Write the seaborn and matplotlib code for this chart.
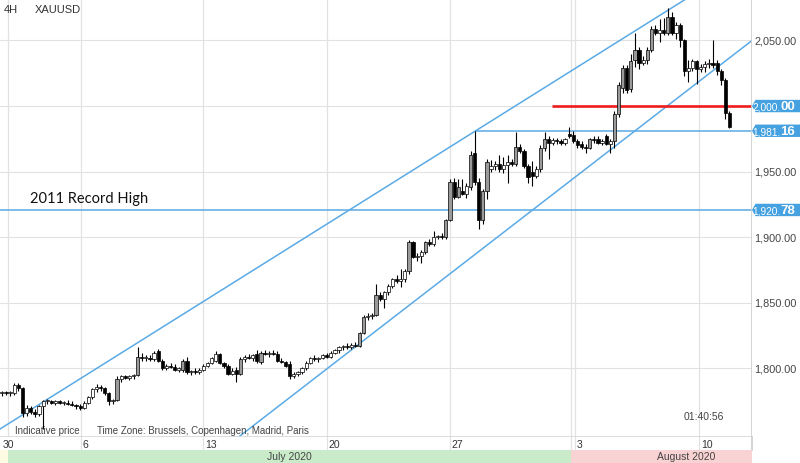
import matplotlib
matplotlib.use("Agg")
import numpy as np
import pandas as pd
import matplotlib.pyplot as plt
import seaborn as sns
from matplotlib.patches import Polygon

# ---------------- data (4H XAUUSD candles) ----------------
opens = [1781, 1782, 1781, 1781, 1787, 1785, 1766, 1770, 1767, 1765,
         1771, 1775, 1775, 1774, 1775, 1774, 1774, 1773, 1772, 1771,
         1770, 1774, 1778, 1784, 1786, 1785, 1781, 1775, 1776, 1792,
         1794, 1793, 1794, 1795, 1809, 1808, 1808, 1807, 1813, 1806,
         1800, 1802, 1801, 1799, 1799, 1806, 1797, 1798, 1797, 1799,
         1802, 1804, 1806, 1811, 1804, 1802, 1796, 1799, 1796, 1807,
         1809, 1808, 1811, 1805, 1812, 1811, 1812, 1811, 1806, 1805,
         1803, 1794, 1796, 1797, 1800, 1804, 1808, 1807, 1808, 1810,
         1809, 1812, 1814, 1816, 1817, 1816, 1818, 1817, 1827, 1839,
         1840, 1841, 1856, 1853, 1858, 1863, 1868, 1867, 1868, 1874,
         1896, 1885, 1886, 1889, 1896, 1895, 1900, 1901, 1900, 1913,
         1942, 1931, 1935, 1933, 1938, 1964, 1942, 1913, 1935, 1952,
         1954, 1956, 1952, 1955, 1957, 1956, 1969, 1966, 1954, 1950,
         1947, 1952, 1968, 1975, 1972, 1974, 1973, 1972, 1979, 1978,
         1973, 1971, 1969, 1968, 1975, 1975, 1972, 1977, 1971, 1973,
         1994, 2014, 2029, 2013, 2035, 2043, 2033, 2035, 2043, 2059,
         2056, 2058, 2056, 2068, 2056, 2062, 2050, 2027, 2029, 2034,
         2028, 2030, 2032, 2033, 2033, 2027, 2020, 1995]
highs = [1783, 1783, 1783, 1789, 1789, 1786, 1772, 1771, 1769, 1772,
         1776, 1777, 1776, 1776, 1776, 1775, 1776, 1775, 1773, 1773,
         1775, 1779, 1785, 1788, 1787, 1786, 1782, 1777, 1794, 1795,
         1795, 1795, 1796, 1816, 1812, 1810, 1810, 1813, 1815, 1807,
         1803, 1804, 1803, 1801, 1807, 1809, 1799, 1800, 1800, 1803,
         1805, 1809, 1813, 1812, 1805, 1803, 1800, 1801, 1809, 1810,
         1811, 1811, 1814, 1813, 1814, 1813, 1814, 1813, 1808, 1806,
         1806, 1797, 1798, 1801, 1806, 1809, 1810, 1809, 1811, 1812,
         1813, 1815, 1817, 1818, 1819, 1819, 1820, 1828, 1841, 1842,
         1842, 1864, 1858, 1859, 1864, 1869, 1871, 1876, 1876, 1898,
         1897, 1888, 1890, 1897, 1899, 1905, 1902, 1903, 1914, 1944,
         1945, 1944, 1944, 1941, 1966, 1981.16, 1945, 1937, 1960, 1959,
         1958, 1963, 1961, 1963, 1960, 1980, 1971, 1967, 1956, 1958,
         1954, 1970, 1980, 1977, 1976, 1976, 1975, 1976, 1984, 1981,
         1975, 1973, 1971, 1976, 1977, 1977, 1975, 1979, 1975, 1996,
         2018, 2031, 2031, 2040, 2056, 2045, 2038, 2045, 2061, 2062,
         2066, 2067, 2075, 2072, 2064, 2063, 2051, 2035, 2036, 2035,
         2032, 2034, 2036, 2050, 2035, 2028, 2021, 1996]
lows = [1779, 1780, 1779, 1780, 1783, 1763, 1764, 1765, 1763, 1764,
        1754, 1773, 1773, 1772, 1773, 1772, 1772, 1771, 1769, 1768,
        1769, 1773, 1777, 1782, 1783, 1780, 1772, 1773, 1775, 1790,
        1792, 1791, 1792, 1794, 1806, 1806, 1806, 1806, 1805, 1799,
        1799, 1800, 1798, 1797, 1797, 1796, 1795, 1796, 1796, 1798,
        1801, 1803, 1805, 1803, 1800, 1795, 1795, 1790, 1795, 1805,
        1807, 1806, 1804, 1803, 1810, 1809, 1810, 1805, 1804, 1801,
        1792, 1793, 1794, 1796, 1799, 1803, 1806, 1805, 1807, 1808,
        1808, 1811, 1812, 1814, 1815, 1815, 1816, 1816, 1826, 1837,
        1838, 1840, 1851, 1846, 1856, 1861, 1865, 1862, 1866, 1872,
        1884, 1882, 1880, 1887, 1893, 1893, 1899, 1899, 1899, 1912,
        1929, 1930, 1932, 1930, 1936, 1940, 1906, 1910, 1929, 1950,
        1951, 1950, 1949, 1941, 1954, 1954, 1964, 1953, 1941, 1939,
        1945, 1950, 1966, 1960, 1970, 1971, 1970, 1970, 1976, 1972,
        1968, 1967, 1964, 1967, 1972, 1971, 1970, 1970, 1964, 1968,
        1992, 2010, 2010, 2011, 2030, 2028, 2031, 2032, 2041, 2054,
        2049, 2054, 2054, 2054, 2051, 2045, 2023, 2018, 2027, 2017,
        2026, 2026, 2029, 2029, 2024, 2016, 1990, 1983]
closes = [1782, 1781, 1782, 1787, 1785, 1766, 1770, 1767, 1765, 1771,
          1775, 1775, 1774, 1775, 1774, 1774, 1773, 1772, 1771, 1770,
          1774, 1778, 1784, 1786, 1785, 1781, 1775, 1776, 1792, 1794,
          1793, 1794, 1795, 1809, 1808, 1808, 1807, 1812, 1806, 1800,
          1802, 1801, 1799, 1800, 1806, 1797, 1798, 1797, 1799, 1802,
          1804, 1808, 1811, 1804, 1802, 1796, 1798, 1796, 1807, 1809,
          1808, 1810, 1806, 1812, 1811, 1812, 1811, 1806, 1805, 1802,
          1794, 1796, 1797, 1800, 1804, 1808, 1807, 1808, 1810, 1809,
          1812, 1814, 1816, 1817, 1816, 1818, 1817, 1827, 1839, 1840,
          1841, 1856, 1853, 1858, 1863, 1868, 1867, 1868, 1874, 1896,
          1885, 1886, 1889, 1896, 1895, 1900, 1901, 1900, 1913, 1942,
          1931, 1938, 1933, 1939, 1963, 1942, 1913, 1935, 1957, 1954,
          1956, 1952, 1955, 1957, 1956, 1969, 1966, 1954, 1946, 1947,
          1952, 1968, 1975, 1972, 1974, 1973, 1972, 1975, 1977, 1973,
          1970, 1969, 1968, 1975, 1974, 1972, 1973, 1971, 1973, 1994,
          2016, 2029, 2012, 2034, 2043, 2033, 2035, 2043, 2059, 2056,
          2058, 2056, 2068, 2056, 2062, 2050, 2027, 2029, 2034, 2028,
          2030, 2032, 2033, 2031, 2027, 2020, 1995, 1984]

price_ticks = [1800, 1850, 1900, 1950, 2000, 2050]
week_grid = [19.1, 49.0, 79.1, 109.0, 139.4, 169.6]
date_labels = ["30", "6", "13", "20", "27", "3", "10"]
date_label_pos = [0.2, 19.5, 49.4, 79.4, 109.4, 139.8, 170.0]
month_bounds = [-0.49, 1.46, 138.4, 182.48]
month_names = ["", "July 2020", "August 2020"]
month_label_pos = [0.5, 69.9, 166.4]

# channel line anchors (candle index, price)
upper_channel = [(-0.49, 1753.8), (166.4, 2081.6)]
lower_channel = [(57.9, 1748.5), (182.0, 2048.8)]
record_high = 1920.78
resistance = 1981.16
resistance_start = 115
round_level = 2000.0
round_level_start = 133.8

# ---------------- styling / layout ----------------
sns.set_theme(style="white")
plt.rcParams['font.family'] = ['Liberation Sans', 'DejaVu Sans']

W, H = 800, 464
XLIM = (-0.49, 182.48)
YLIM = (1747.7, 2081.6)
BLUE = '#5aaae6'
BOX = '#45a1e0'
GRID = '#e2e2e2'


def rect(x0, y0, x1, y1):
    return [x0 / W, 1 - y1 / H, (x1 - x0) / W, (y1 - y0) / H]


fig = plt.figure(figsize=(8, 4.64), dpi=100)
ax = fig.add_axes(rect(0, 0, 752, 438))
ax_right = fig.add_axes(rect(752, 0, 800, 438))
ax_date = fig.add_axes(rect(0, 438, 752, 451))
ax_month = fig.add_axes(rect(0, 451, 752, 464))

for a in (ax, ax_right, ax_date, ax_month):
    a.set_xticks([])
    a.set_yticks([])
    for s in a.spines.values():
        s.set_visible(False)
    a.set_facecolor('white')

ax.set_xlim(*XLIM)
ax.set_ylim(*YLIM)
ax.spines['right'].set_visible(True)
ax.spines['right'].set_color('#cfcfcf')
ax.spines['bottom'].set_visible(True)
ax.spines['bottom'].set_color('#d8d8d8')

# grid
for p in price_ticks:
    ax.axhline(p, color=GRID, lw=0.8, zorder=0)
for g in week_grid + [month_bounds[1], month_bounds[2]]:
    ax.axvline(g, color=GRID, lw=0.9, zorder=0)

# channel lines through seaborn
def extend(anchors):
    (i1, p1), (i2, p2) = anchors
    m = (p2 - p1) / (i2 - i1)
    return [XLIM[0], XLIM[1]], [p1 + m * (XLIM[0] - i1), p1 + m * (XLIM[1] - i1)]

rows = []
for name, anc in (("upper", upper_channel), ("lower", lower_channel)):
    xs, ys = extend(anc)
    for xv, yv in zip(xs, ys):
        rows.append({"line": name, "i": xv, "price": yv})
ch = pd.DataFrame(rows)
sns.lineplot(data=ch, x="i", y="price", units="line", estimator=None,
             color=BLUE, lw=1.1, ax=ax, zorder=2, legend=False)
ax.set_xlabel("")
ax.set_ylabel("")
ax.set_xlim(*XLIM)
ax.set_ylim(*YLIM)

ax.axhline(record_high, color=BLUE, lw=1.1, zorder=2)
ax.hlines(resistance, resistance_start, XLIM[1], color=BLUE, lw=1.1, zorder=2)
ax.hlines(round_level, round_level_start, XLIM[1], color='#ee1c1c', lw=1.9, zorder=2)

# candles
o = np.array(opens, float)
h = np.array(highs, float)
l = np.array(lows, float)
c = np.array(closes, float)
idx = np.arange(len(o))
up = c >= o
ax.vlines(idx, l, h, color='black', lw=0.8, zorder=3)
bottom = np.minimum(o, c)
height = np.maximum(np.abs(c - o), 0.7)
fills = np.where(up, np.where(np.abs(c - o) > 6, '#9a9a9a', 'white'), 'black')
ax.bar(idx, height, bottom=bottom, width=0.78, color=fills, edgecolor='black',
       linewidth=0.5, zorder=4)

# annotations in pixel positions
def ftext(x, y, s, **kw):
    fig.text(x / W, 1 - y / H, s, va='center', **kw)

ftext(4, 10, "4H", fontsize=8, color='#333333')
ftext(35, 10, "XAUUSD", fontsize=8, color='#333333')
ftext(30, 199, "2011 Record High", fontsize=10.5, color='#111111', family=['Lato', 'DejaVu Sans'])
ftext(15, 431, "Indicative price", fontsize=7, color='#444444')
ftext(97, 431, "Time Zone: Brussels, Copenhagen, Madrid, Paris", fontsize=7, color='#444444')
ftext(684, 417, "01:40:56", fontsize=7.5, color='#444444')

# right price scale
ax_right.set_xlim(0, 48)
ax_right.set_ylim(*YLIM)
ppx = (YLIM[1] - YLIM[0]) / 438.0
for p in price_ticks:
    if p == round_level:
        continue
    ax_right.text(2.5, p, f"{p:,.2f}", fontsize=7.8, color='#444444', va='center', ha='left')

for lvl in (round_level, resistance, record_high):
    hh = 6.2 * ppx
    poly = Polygon([(0, lvl), (3.5, lvl + hh), (48, lvl + hh), (48, lvl - hh), (3.5, lvl - hh)],
                   closed=True, facecolor=BOX, edgecolor='none', clip_on=False)
    ax_right.add_patch(poly)
    s = f"{lvl:,.2f}"
    ax_right.text(28.5, lvl - 0.3 * ppx, s[:-2], fontsize=7.3, color='white', va='center', ha='right')
    ax_right.text(28.5, lvl, s[-2:], fontsize=9.5, fontweight='bold', color='white', va='center', ha='left')

# date row
ax_date.set_xlim(*XLIM)
ax_date.set_ylim(0, 1)
ax_date.spines['right'].set_visible(True)
ax_date.spines['right'].set_color('#cfcfcf')
for g in week_grid + [month_bounds[2]]:
    ax_date.axvline(g, color=GRID, lw=0.9)
for lab, pos in zip(date_labels, date_label_pos):
    ax_date.text(pos, 0.45, lab, fontsize=7.5, color='#333333', va='center', ha='left')

# month band
ax_month.set_xlim(*XLIM)
ax_month.set_ylim(0, 1)
band_colors = ['#fffbe2', '#c9ebc9', '#f9d3d3']
for k in range(3):
    ax_month.axvspan(month_bounds[k], month_bounds[k + 1], color=band_colors[k], lw=0)
    if month_names[k]:
        ax_month.text(month_label_pos[k], 0.5, month_names[k], fontsize=7.5,
                      color='#444444', ha='center', va='center')

fig.savefig("out.png", dpi=100)
